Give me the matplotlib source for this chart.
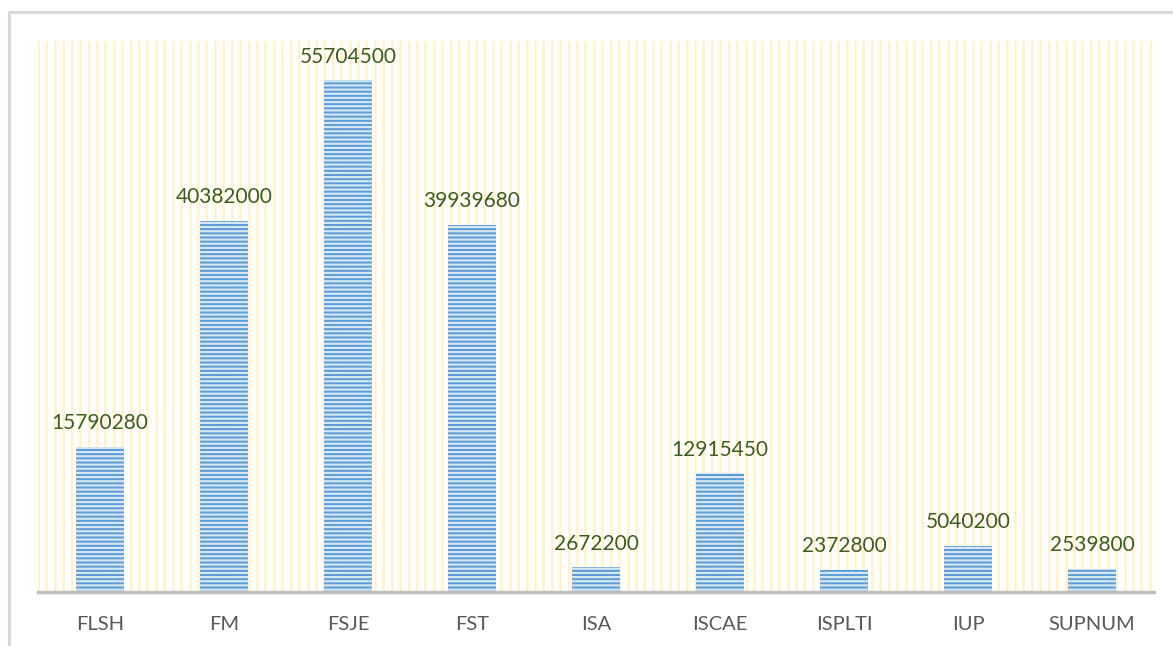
import matplotlib.pyplot as plt
import numpy as np
from matplotlib.patches import Rectangle

plt.rcParams['font.family'] = ['Lato', 'DejaVu Sans']
plt.rcParams['hatch.linewidth'] = 1.6

etablissements = ["FLSH", "FM", "FSJE", "FST", "ISA", "ISCAE", "ISPLTI", "IUP", "SUPNUM"]
montants = [15790280, 40382000, 55704500, 39939680, 2672200, 12915450, 2372800, 5040200, 2539800]

fig = plt.figure(figsize=(11.73, 6.46), dpi=100)
fig.patches.append(Rectangle((9 / 1173, -0.1), 1.2, 1.1 - 12 / 646, transform=fig.transFigure,
                             fill=False, edgecolor='#D9D9D9', linewidth=2.2))
ax = fig.add_axes([38 / 1173, 54 / 646, 1116 / 1173, 551 / 646])

# fond rayé verticalement
for xf in np.arange(0, 1.0, 1 / 132.5):
    ax.axvline(xf * 9 - 0.5, color='#FFF2CC', linewidth=2, zorder=0)

x = np.arange(len(etablissements))
bars = ax.bar(x, montants, width=0.38, color='#5B9BD5', hatch='----', edgecolor='#D6E6F5',
              linewidth=0, zorder=2)
for b, v in zip(bars, montants):
    ax.annotate(str(v), (b.get_x() + b.get_width() / 2, v), xytext=(0, 10), textcoords='offset points',
                ha='center', va='bottom', fontsize=15, color='#3D5C1F')

ax.set_xlim(-0.5, 8.5)
ax.set_ylim(0, 60000000)
ax.set_xticks(x)
ax.set_xticklabels(etablissements, fontsize=14.5, color='#595959')
ax.tick_params(axis='x', length=0, pad=17)
ax.set_yticks([])
for s in ['top', 'right', 'left']:
    ax.spines[s].set_visible(False)
ax.spines['bottom'].set_color('#BFBFBF')
ax.spines['bottom'].set_linewidth(2.5)
ax.spines['bottom'].set_zorder(3)

fig.savefig('out.png', dpi=100)
